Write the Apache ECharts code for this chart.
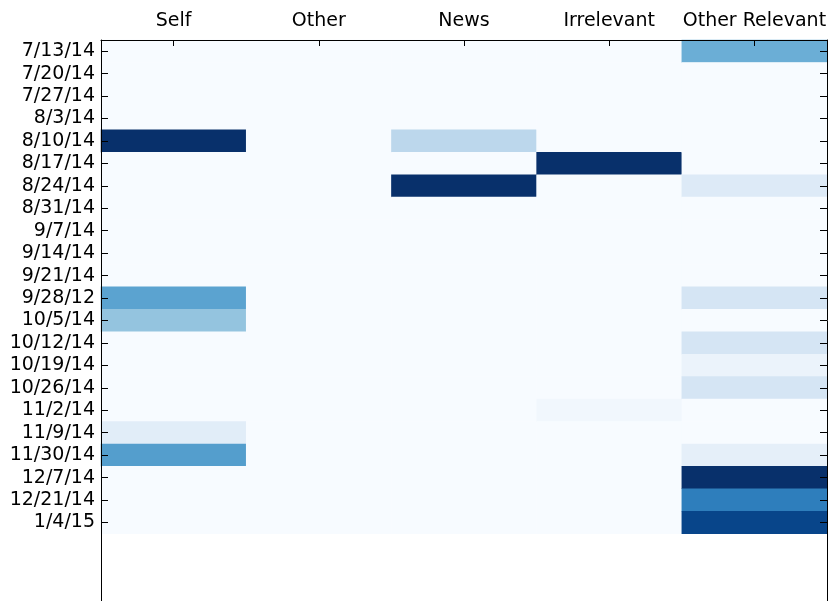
<!DOCTYPE html>
<html>
<head>
<meta charset="utf-8">
<script src="https://cdn.jsdelivr.net/npm/echarts@6/dist/echarts.min.js"></script>
<style>
html,body{margin:0;padding:0;background:#fff;}
#chart{width:829px;height:601px;}
</style>
</head>
<body>
<div id="chart"></div>
<script>
// ---- data ----
const columns = ['Self', 'Other', 'News', 'Irrelevant', 'Other Relevant'];
const dates = ['7/13/14','7/20/14','7/27/14','8/3/14','8/10/14','8/17/14','8/24/14','8/31/14','9/7/14','9/14/14','9/21/14','9/28/12','10/5/14','10/12/14','10/19/14','10/26/14','11/2/14','11/9/14','11/30/14','12/7/14','12/21/14','1/4/15'];
const selfValues          = [0,0,0,0,1.00,0,0,0,0,0,0,0.55,0.40,0,0,0,0,0.11,0.57,0,0,0];
const otherValues         = [0,0,0,0,0,0,0,0,0,0,0,0,0,0,0,0,0,0,0,0,0,0];
const newsValues          = [0,0,0,0,0.28,0,1.00,0,0,0,0,0,0,0,0,0,0,0,0,0,0,0];
const irrelevantValues    = [0,0,0,0,0,1.00,0,0,0,0,0,0,0,0,0,0,0.03,0,0,0,0,0];
const otherRelevantValues = [0.50,0,0,0,0,0,0.13,0,0,0,0,0.17,0,0.17,0.06,0.17,0,0,0.09,1.00,0.70,0.92];

const series = [selfValues, otherValues, newsValues, irrelevantValues, otherRelevantValues];
const blues = ['#f7fbff','#deebf7','#c6dbef','#9ecae1','#6baed6','#4292c6','#2171b5','#08519c','#08306b'];

const heatData = [];
series.forEach((vals, c) => vals.forEach((v, r) => heatData.push([c, r, v])));
// y range extends 3 empty rows below the data (as in the original figure)
const yCategories = dates.concat(['', '', '']);

const chart = echarts.init(document.getElementById('chart'), null, {renderer: 'canvas'});
const font = 'DejaVu Sans';
const fs = 19;
const lineStyle = {color: '#000', width: 1};
chart.setOption({
  animation: false,
  backgroundColor: '#fff',
  grid: {left: 101, right: 1, top: 40, bottom: 0, containLabel: false},
  xAxis: [
    {type: 'category', position: 'top', data: columns, z: 10,
     axisLine: {show: true, lineStyle: lineStyle},
     axisTick: {show: true, inside: true, length: 6, alignWithLabel: true, lineStyle: {color: '#000'}},
     axisLabel: {fontFamily: font, fontSize: fs, color: '#000', margin: 9, interval: 0},
     splitLine: {show: false}},
    {type: 'category', position: 'bottom', data: columns, z: 10,
     axisLine: {show: true, lineStyle: lineStyle},
     axisTick: {show: false}, axisLabel: {show: false}, splitLine: {show: false}}
  ],
  yAxis: [
    {type: 'category', position: 'left', inverse: true, data: yCategories, z: 10,
     axisLine: {show: true, lineStyle: lineStyle},
     axisTick: {show: true, inside: true, length: 7, alignWithLabel: true,
                interval: (i) => i < dates.length, lineStyle: {color: '#000'}},
     axisLabel: {fontFamily: font, fontSize: fs, color: '#000', margin: 6, interval: 0},
     splitLine: {show: false}},
    {type: 'category', position: 'right', inverse: true, data: yCategories, z: 10,
     axisLine: {show: true, lineStyle: lineStyle},
     axisTick: {show: true, inside: true, length: 7, alignWithLabel: true,
                interval: (i) => i < dates.length, lineStyle: {color: '#000'}},
     axisLabel: {show: false}, splitLine: {show: false}}
  ],
  visualMap: {show: false, type: 'continuous', min: 0, max: 1, dimension: 2,
              inRange: {color: blues}, seriesIndex: 0},
  series: [{
    type: 'heatmap', xAxisIndex: 0, yAxisIndex: 0, data: heatData, z: 2,
    itemStyle: {borderWidth: 0},
    emphasis: {disabled: true}
  }]
});
</script>
</body>
</html>
